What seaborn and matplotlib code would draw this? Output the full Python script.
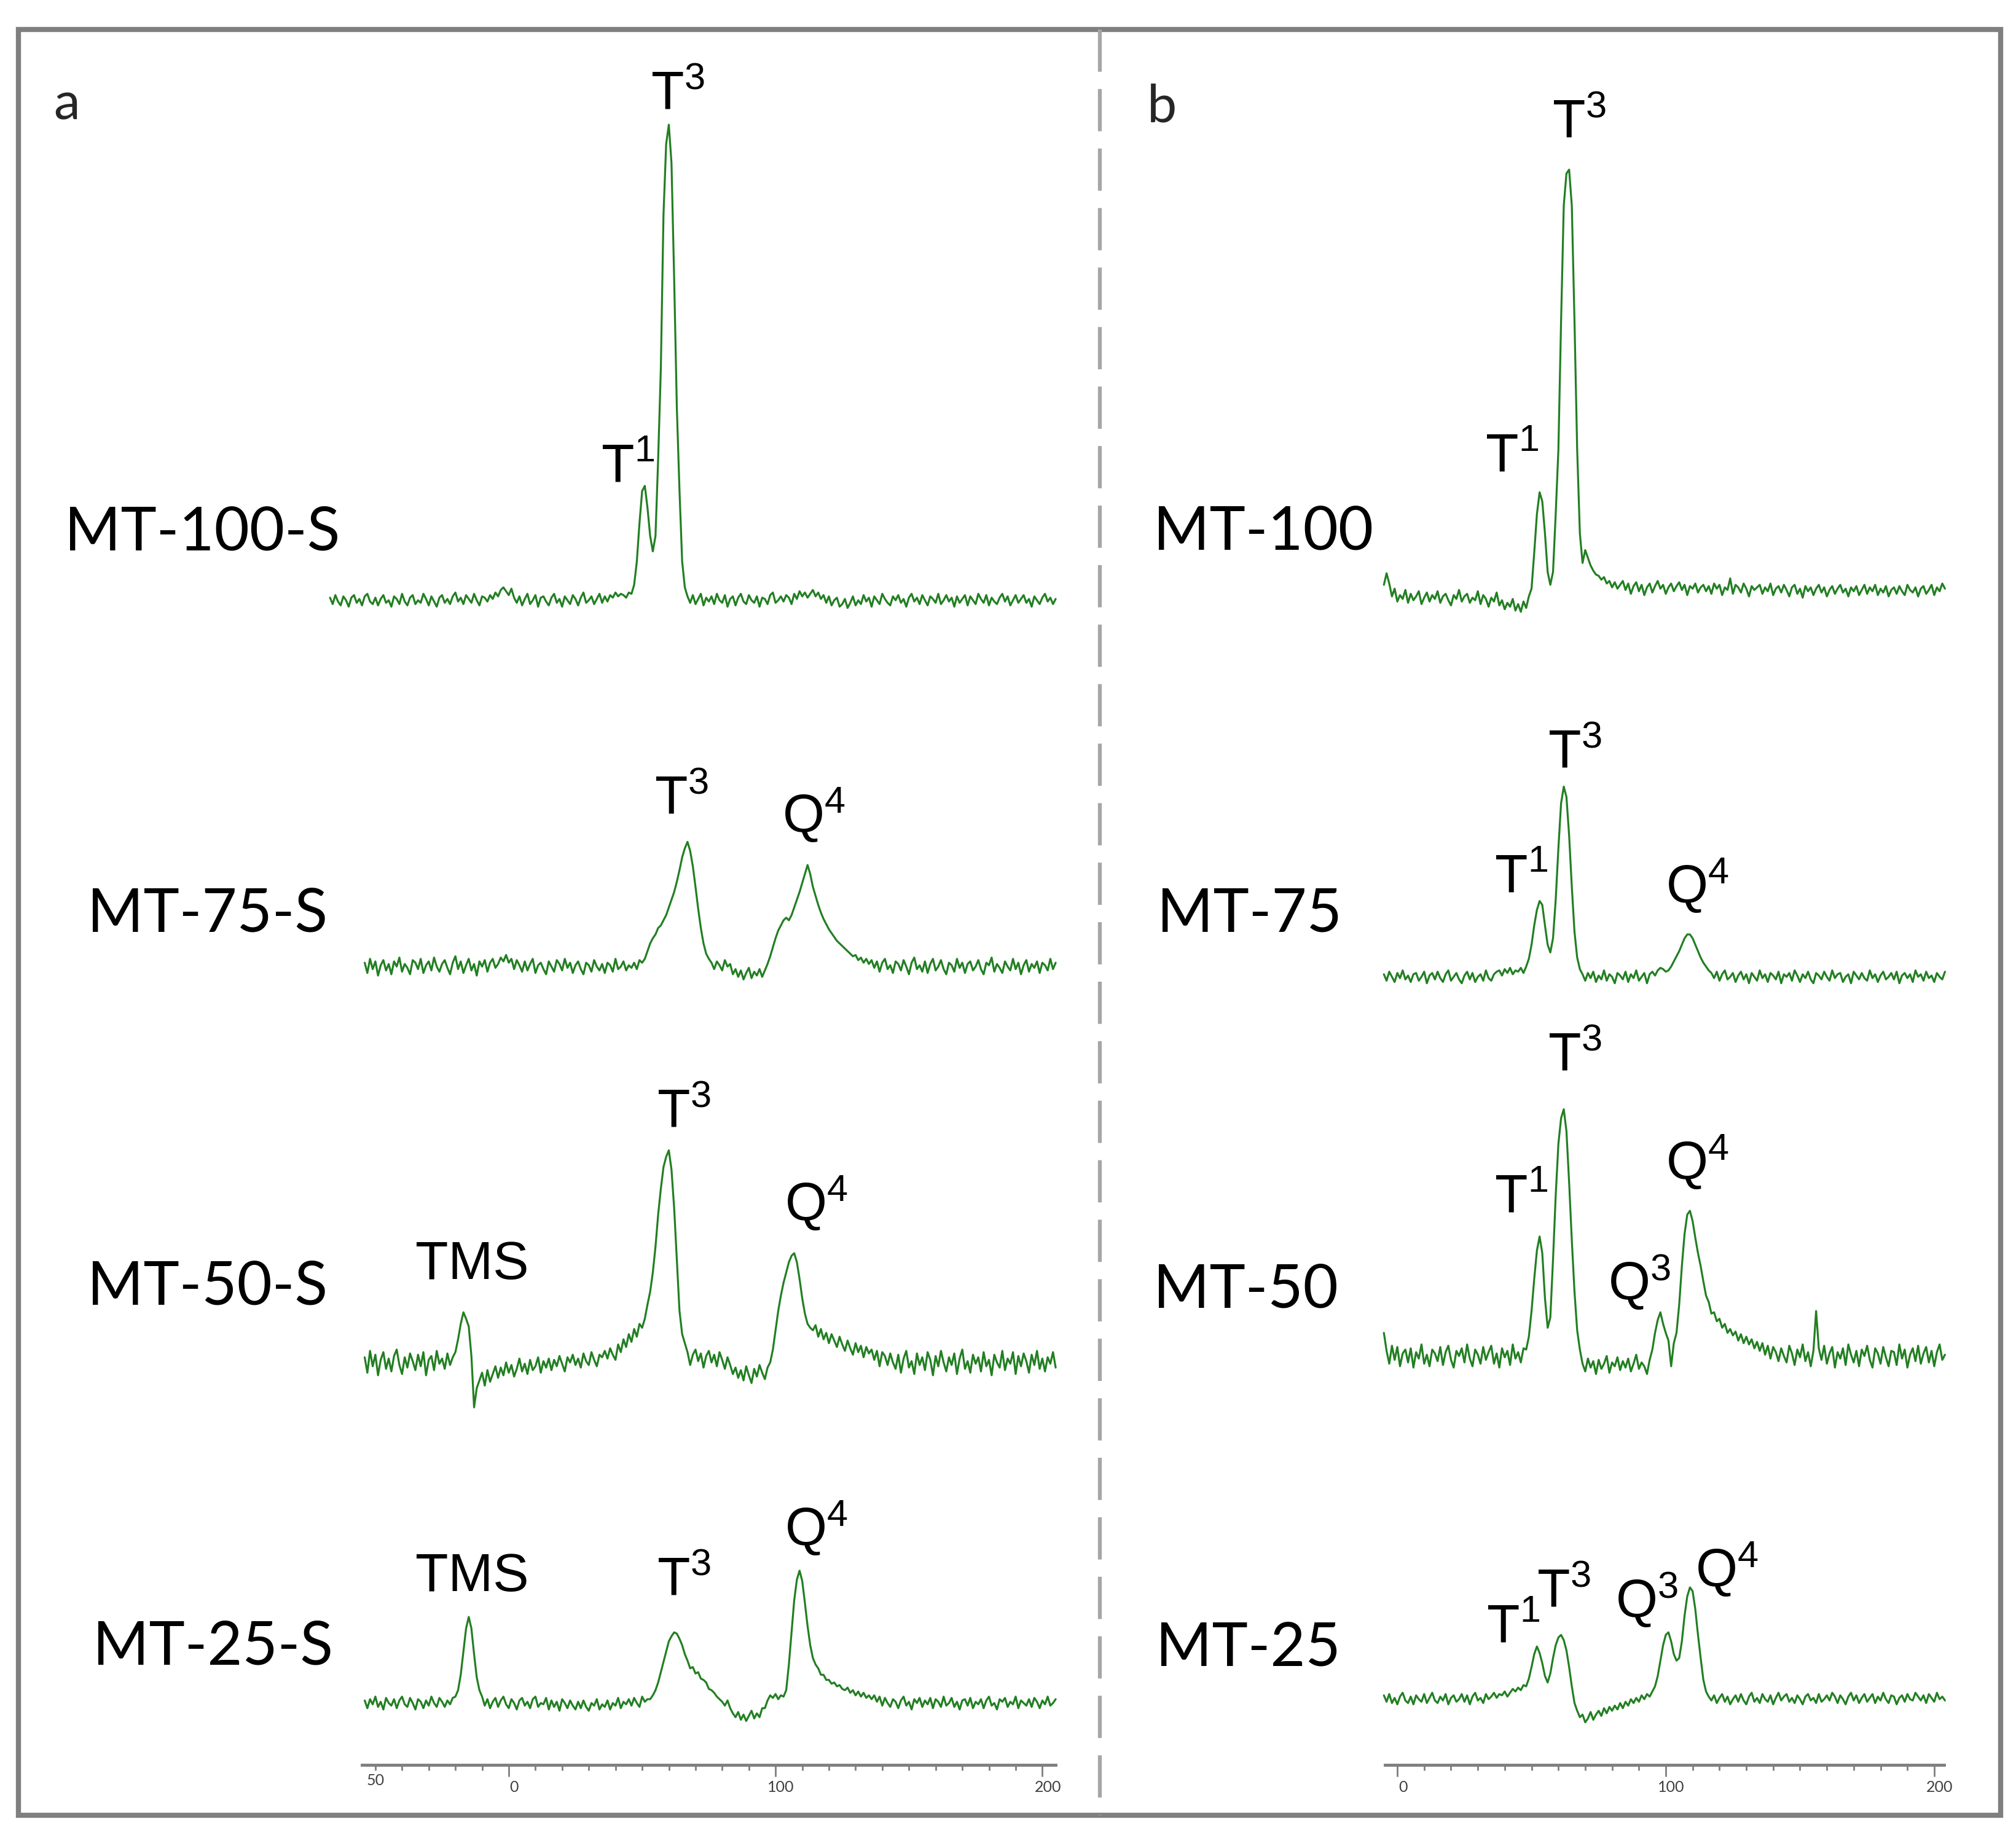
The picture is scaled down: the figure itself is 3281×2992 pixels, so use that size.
import numpy as np
import matplotlib
matplotlib.use("Agg")
import matplotlib.pyplot as plt
from matplotlib.patches import Rectangle
from matplotlib.lines import Line2D
from matplotlib.ticker import FixedLocator, FuncFormatter
from matplotlib.transforms import ScaledTranslation
import seaborn as sns

# 29Si NMR traces: intensity (arb. units) on a 1 ppm grid
# panel a starts at -67 ppm (MT-100-S) / -54 ppm (others), panel b at -5 ppm
a_start = [-67, -54, -54, -54]
b_start = [-5, -5, -5, -5]

a_mt100s = [
    2, -3, 4, -1, -4, 3, 0, -5, 2, 4,            # -67
    -2, 1, -4, 3, 5, -1, -3, 2, -4, 1,           # -57
    4, -2, 0, -5, 3, 1, -3, 5, -1, -4,           # -47
    2, 4, -3, 0, -2, 5, 1, -4, 3, -1,            # -37
    -5, 2, 4, -2, 1, -3, 3, 6, -1, 2,            # -27
    -3, 4, 1, -2, 5, 0, -4, 3, 2, -1,            # -17
    4, 1, 6, 3, 8, 10, 7, 4, 9, 2,               # -7
    -2, 3, -4, 1, 5, -3, 0, 4, -5, 2,            # 3
    3, -1, -4, 2, 5, -2, 1, -5, 3, 0,            # 13
    -3, 4, 1, -4, 2, 6, -2, 0, 3, -3,            # 23
    1, 5, -2, 3, -1, 4, 2, 6, 3, 5,              # 33
    4, 2, 6, 5, 12, 30, 60, 85, 89, 72,          # 43
    50, 38, 50, 110, 180, 300, 355, 370, 340, 250,  # 53
    150, 85, 30, 10, 3, -2, 4, -3, 1, 5,         # 63
    -4, 2, -1, 3, -3, 5, 0, -2, 4, -5,           # 73
    1, 3, -4, 2, 5, -1, -3, 4, 0, -2,            # 83
    3, -5, 2, 1, -3, 4, 6, -2, 0, 3,             # 93
    -1, 4, 2, -3, 5, 1, 7, 3, 6, 2,              # 103
    5, 8, 3, 6, 1, 4, -2, 3, -4, 0,              # 113
    2, -5, -3, 1, -6, -2, 3, -4, 0, -3,          # 123
    4, -1, 2, -5, 3, 0, -3, 5, 1, -2,            # 133
    -4, 3, 0, 4, -2, 1, -5, 2, 5, -1,            # 143
    2, -3, 4, 0, -4, 3, 1, -2, 5, -3,            # 153
    0, 4, -1, 2, -5, 3, -2, 1, 4, -4,            # 163
    3, 0, -3, 5, 1, -2, 4, -4, 2, -1,            # 173
    -3, 2, 5, -1, 3, -4, 0, 4, -2, 1,            # 183
    4, -2, 1, -5, 3, 0, -3, 2, 5, -1,            # 193
    2, -3, 1,                                    # 203
]

a_mt75s = [
    3, -5, 6, -2, 4, -7, 1, 5, -3, 2,            # -54
    -6, 4, 0, 7, -4, 2, -1, -6, 5, 3,            # -44
    -2, 6, -5, 1, 4, -3, 7, 0, -4, 2,            # -34
    5, -1, -6, 3, 8, -2, 4, -5, 1, 6,            # -24
    -3, 2, -7, 4, 0, 5, -4, 3, 6, -1,            # -14
    2, 7, 4, 9, 3, 6, -2, 5, 1, -4,              # -4
    4, -3, 2, 6, -5, 1, 3, -2, -6, 4,            # 6
    0, -4, 5, 2, -3, 6, -1, 3, -5, 1,            # 16
    4, -2, -6, 3, 1, -4, 5, 0, -3, 2,            # 26
    -5, 3, 1, -4, 6, -2, 0, 4, -3, 1,            # 36
    -1, 3, -2, 5, 3, 6, 12, 18, 22, 25,          # 46
    30, 32, 36, 40, 46, 52, 58, 66, 75, 85,      # 56
    92, 97, 90, 78, 62, 45, 30, 18, 10, 6,       # 66
    3, -2, 4, 1, -3, 5, 0, 2, -6, -2,            # 76
    -8, -3, -10, -5, -1, -9, -4, -7, -2, -8,     # 86
    -3, 2, 8, 15, 22, 28, 32, 36, 38, 36,        # 96
    40, 46, 52, 58, 65, 72, 79, 72, 62, 55,      # 106
    48, 42, 37, 33, 29, 26, 23, 20, 18, 16,      # 116
    14, 12, 10, 8, 9, 5, 7, 3, 6, 2,             # 126
    5, -1, 4, -4, 3, 6, -2, 1, -5, 4,            # 136
    2, -3, 5, 0, -6, 3, 7, -2, 1, -4,            # 146
    4, -5, 2, 6, -3, 0, 5, -2, -6, 3,            # 156
    1, -4, 6, -1, 3, -5, 2, 4, -3, 0,            # 166
    5, -2, -6, 3, 1, 7, -4, 2, -1, -5,           # 176
    4, 0, -3, 6, -2, 3, -6, 1, 5, -4,            # 186
    2, -1, 4, -5, 3, 1, -3, 6, -2, 3,            # 196
]

a_mt50s = [
    4, -8, 9, -3, 6, -10, 2, 8, -5, 3,           # -54
    -7, 5, 10, -2, -9, 4, -4, 7, 1, -6,          # -44
    6, -3, 8, -10, 2, 5, -6, 9, -1, 3,           # -34
    -5, 7, -2, 4, 8, 18, 30, 39, 34, 28,         # -24
    5, -35, -20, -14, -8, -18, -6, -15, -9, -3,  # -14
    -12, -4, -10, 0, -8, -2, -11, -5, 3, -7,     # -4
    -1, -9, 2, -6, -3, 4, -8, 1, -4, 3,          # 6
    -6, 2, -3, 5, -1, -7, 4, 0, 6, -2,           # 16
    3, -4, 7, 1, -2, 8, 2, -3, 6, 4,             # 26
    9, 3, 11, 6, 2, 14, 8, 18, 12, 22,           # 36
    16, 26, 20, 30, 27, 34, 45, 55, 70, 90,      # 46
    115, 135, 152, 160, 165, 150, 120, 80, 40, 22,  # 56
    15, 8, -2, 6, 10, 1, 7, -4, 5, 9,            # 66
    0, 6, -3, 8, 2, -5, 4, -2, -9, -4,           # 76
    -12, -6, -14, -3, -10, -16, -5, -11, -2, -8,  # 86
    -13, -4, 0, 10, 25, 40, 52, 62, 70, 78,      # 96
    83, 85, 78, 65, 50, 38, 30, 27, 25, 29,      # 106
    20, 26, 18, 23, 15, 22, 17, 12, 20, 14,      # 116
    9, 17, 11, 6, 15, 8, 13, 4, 12, 7,           # 126
    10, 2, 9, -3, 8, 5, -2, 7, 0, -5,            # 136
    6, -8, 3, 9, -4, 1, -9, 7, -2, 4,            # 146
    -6, 8, 2, -10, 5, -3, 9, 0, -7, 4,           # 156
    -2, 7, -9, 3, 10, -5, 1, -8, 6, -1,          # 166
    4, -7, 8, -3, 2, -10, 6, 0, -4, 9,           # 176
    -6, 3, -1, 8, -9, 5, -3, 7, 1, -8,           # 186
    6, -2, 9, -5, 3, -7, 4, -1, 8, -4,           # 196
]

a_mt25s = [
    2, -4, 3, -1, 5, -3, 1, -5, 4, 0,            # -54
    -2, 3, -4, 2, 5, -1, -3, 4, 0, -5,           # -44
    3, 1, -4, 2, -2, 5, 0, -3, 4, 1,             # -34
    -3, 2, -1, 4, 5, 10, 22, 40, 58, 67,         # -24
    58, 38, 20, 10, 5, -2, 3, -4, 1, 4,          # -14
    -3, 2, 5, -1, -4, 3, 0, -5, 2, 4,            # -4
    -2, 1, -4, 3, 5, -3, 0, -1, 4, -5,           # 6
    2, -3, 1, -6, 3, 0, -4, 2, -2, -5,           # 16
    1, -4, 2, -3, -6, 0, -2, 3, -5, -1,          # 26
    -3, 2, -5, 0, -2, 4, -4, 1, -1, 3,           # 36
    -2, 4, 0, -3, 5, 1, 3, 3, 6, 10,             # 46
    16, 24, 32, 40, 48, 52, 55, 54, 50, 45,      # 56
    38, 33, 27, 28, 23, 24, 19, 18, 16, 11,      # 66
    10, 8, 5, 3, 1, -2, 2, -4, -8, -11,          # 76
    -7, -13, -9, -14, -10, -6, -12, -8, -11, -4,  # 86
    -4, 2, 6, 4, 7, 3, 6, 5, 10, 30,             # 96
    55, 80, 96, 103, 95, 78, 60, 45, 35, 30,     # 106
    27, 22, 22, 18, 18, 15, 16, 13, 14, 11,      # 116
    10, 12, 8, 10, 6, 9, 5, 8, 4, 6,             # 126
    3, 6, 1, 5, -2, 4, 0, -3, 3, 1,              # 136
    -4, 2, 5, -2, 1, -5, 3, 0, 4, -3,            # 146
    2, -1, 4, -4, 3, 1, -3, 5, -2, 0,            # 156
    4, -3, 1, -5, 2, 3, -2, 4, -4, 1,            # 166
    -1, 3, -4, 2, 5, -2, 0, -5, 3, 1,            # 176
    4, -3, 1, -1, 5, -4, 2, 0, -2, 3,            # 186
    -3, 4, 1, -4, 2, -1, 5, -2, 0, 3,            # 196
]

b_mt100 = [
    5, 14, 6, -4, 2, -8, -3, -6, 1, -9,          # -5
    -2, -7, -4, 0, -10, -5, -1, -8, -3, -6,      # 5
    0, -9, -4, -2, -7, -11, -3, -6, 1, -8,       # 15
    -4, -2, -9, -5, -7, 0, -10, -3, -6, -12,     # 25
    -5, -8, -1, -11, -7, -14, -9, -12, -6, -15,  # 35
    -10, -16, -8, -13, -4, 2, 30, 60, 77, 70,    # 45
    45, 15, 5, 15, 60, 110, 210, 300, 325, 328,  # 55
    300, 210, 110, 45, 22, 32, 26, 20, 16, 13,   # 65
    12, 9, 11, 6, 8, 3, 7, 2, 5, 8,              # 75
    1, 6, -2, 4, 7, 0, 5, -3, 3, 6,              # 85
    -1, 4, 8, 2, 5, -2, 3, 6, 0, 4,              # 95
    7, 1, 5, -3, 4, 2, 6, -1, 3, 5,              # 105
    0, 4, -2, 6, 2, 5, -3, 3, 1, 10,             # 115
    -2, 5, 3, -1, 6, 2, -4, 4, 1, 3,             # 125
    5, -2, 3, 0, 6, -3, 2, 4, -1, 5,             # 135
    1, -4, 3, 5, -2, 2, -5, 4, 0, 3,             # 145
    -3, 2, 5, -1, 3, -4, 1, 4, -2, 2,            # 155
    5, -1, 2, -4, 3, 0, 4, -3, 1, 5,             # 165
    -2, 3, 0, 5, -3, 2, -1, 4, -4, 1,            # 175
    3, -2, 4, 0, -3, 5, 1, -1, 3, -4,            # 185
    2, 4, -2, 1, 5, -3, 3, 0, 6, 2,              # 195
]

b_mt75 = [
    2, -3, 4, 0, -4, 3, -1, 5, -2, 1,            # -5
    -4, 2, 3, -3, 0, 4, -5, 1, 3, -2,            # 5
    4, -1, -4, 2, 5, -3, 0, 3, -2, -5,           # 15
    1, 4, -2, 3, -4, 0, 2, -3, 5, -1,            # 25
    -3, 2, 4, 5, 1, 6, 3, 7, 2, 5,               # 35
    4, 7, 3, 8, 14, 25, 40, 52, 59, 56,          # 45
    40, 25, 19, 30, 60, 100, 135, 148, 140, 110,  # 55
    70, 35, 15, 6, 2, -3, 3, -1, 4, -4,          # 65
    1, -2, 5, -3, 2, 0, -5, 3, 1, -2,            # 75
    4, -4, 2, -1, 5, -3, 0, 3, -5, 2,            # 85
    4, 1, 5, 7, 6, 4, 5, 8, 12, 16,              # 95
    20, 25, 30, 33, 33, 30, 25, 20, 15, 11,      # 105
    8, 5, 3, -1, 4, -3, 2, 5, -2, 0,             # 115
    3, -4, 1, 4, -2, 2, -5, 3, 0, -3,            # 125
    5, -1, 2, -4, 3, 1, -2, 4, -5, 2,            # 135
    0, 3, -3, 5, 1, -4, 2, -1, 4, -2,            # 145
    -5, 3, 1, -2, 4, 0, -3, 5, -1, 2,            # 155
    3, -4, 0, 2, -5, 4, 1, -2, 3, -1,            # 165
    -3, 5, -1, 2, -4, 1, 4, -2, 0, 3,            # 175
    -2, 4, -5, 1, 3, -1, 2, -4, 5, 0,            # 185
    2, -3, 4, -1, 1, -4, 3, 0, -2, 4,            # 195
]

b_mt50 = [
    18, 4, -6, 8, -3, 7, -8, 2, 5, -5,           # -5
    6, -9, 3, -2, 9, -6, 1, -8, 5, 2,            # 5
    -4, 7, -7, 3, 8, -3, -9, 4, 0, 6,            # 15
    -5, 9, -2, -8, 5, 1, -6, 7, -3, 3,           # 25
    8, -6, 2, -9, 6, -1, 4, -7, 9, -2,           # 35
    3, -5, 6, 5, 15, 35, 60, 82, 93, 80,         # 45
    45, 22, 30, 75, 125, 165, 185, 192, 175, 135,  # 55
    90, 50, 20, 5, -6, -12, -2, -9, -4, -14,     # 65
    -3, -10, -6, 0, -13, -5, -8, -1, -11, -4,    # 75
    -9, -2, -12, -6, 1, -10, -5, -8, -14, -3,    # 85
    5, 18, 28, 34, 25, 18, 12, -8, 10, 18,       # 95
    40, 70, 95, 110, 113, 105, 92, 80, 70, 58,   # 105
    47, 42, 33, 34, 27, 29, 22, 25, 18, 21,      # 115
    16, 19, 12, 17, 10, 15, 9, 13, 6, 11,        # 125
    4, 10, 1, 8, -2, 7, 3, -4, 6, 0,             # 135
    -5, 8, 2, -7, 5, -1, 9, -4, 3, -8,           # 145
    4, 35, 6, -3, 8, -6, 2, 7, -9, 3,            # 155
    -2, 6, -7, 9, 1, -5, 4, -8, 5, 0,            # 165
    8, -3, -9, 6, 2, -6, 7, -1, -8, 4,           # 175
    3, -7, 9, -2, 5, -9, 1, 6, -4, 8,            # 185
    -6, 2, 7, -5, 4, -8, 3, 9, -3, 1,            # 195
]

b_mt25 = [
    3, -2, 4, -3, 1, -4, 2, 5, -1, -3,           # -5
    2, -4, 3, 0, -2, 4, -3, 1, 5, -1,            # 5
    -3, 2, -1, 4, -4, 1, 3, -2, 0, 4,            # 15
    -2, 3, -4, 2, 5, -1, 1, -3, 4, 0,            # 25
    2, 5, 1, 4, 3, 6, 2, 5, 8, 6,                # 35
    9, 7, 11, 10, 16, 25, 35, 41, 36, 28,        # 45
    18, 13, 20, 32, 42, 48, 50, 46, 38, 25,      # 55
    10, -3, -9, -14, -12, -18, -15, -10, -16, -12,  # 65
    -9, -13, -7, -11, -6, -9, -5, -8, -3, -7,    # 75
    -2, -5, 0, -3, 1, -2, 3, 0, 4, 2,            # 85
    6, 10, 18, 30, 42, 50, 52, 45, 35, 30,       # 95
    32, 45, 65, 80, 87, 84, 70, 50, 32, 15,      # 105
    6, 2, -1, 3, -3, 1, 4, -2, 2, -4,            # 115
    0, 3, -2, 4, -1, -4, 2, 5, -2, 1,            # 125
    -3, 4, 0, -2, 3, -4, 1, 5, -1, 2,            # 135
    4, -2, 1, -3, 3, 0, -4, 2, 4, -1,            # 145
    1, -3, 4, -2, 0, 3, -1, 5, 2, -3,            # 155
    3, 0, -4, 2, 5, -1, 3, -3, 1, 4,             # 165
    -2, 1, 4, -3, 2, -1, 5, 0, -3, 3,            # 175
    2, -4, 1, 3, -2, 4, 0, -1, 5, 2,             # 185
    -1, 3, -3, 4, 1, -2, 5, 0, 2, -1,            # 195
]

a_names = ["MT-100-S", "MT-75-S", "MT-50-S", "MT-25-S"]
b_names = ["MT-100", "MT-75", "MT-50", "MT-25"]

# peak assignments: (letter, superscript, ppm, height of label above baseline)
a_peaks = [
    [("T", "1", 44.5, 107), ("T", "3", 63.3, 397)],
    [("T", "3", 64.7, 134), ("Q", "4", 114.3, 119)],
    [("TMS", "", -13.8, 80), ("T", "3", 65.7, 198), ("Q", "4", 115.3, 125)],
    [("TMS", "", -13.8, 102), ("T", "3", 65.7, 99), ("Q", "4", 115.3, 137)],
]
b_peaks = [
    [("T", "1", 42.7, 108), ("T", "3", 67.6, 368)],
    [("T", "1", 46.1, 81), ("T", "3", 66.2, 178), ("Q", "4", 111.7, 72)],
    [("T", "1", 46.1, 127), ("T", "3", 66.2, 237), ("Q", "3", 90.1, 58), ("Q", "4", 111.7, 152)],
    [("T", "1", 43.2, 59), ("T", "3", 61.9, 87), ("Q", "3", 93.0, 78), ("Q", "4", 122.7, 102)],
]

# ---------------- layout (reference measured on a 1568 x 1430 grid)
W, H = 1568.0, 1430.0
AXIS_Y, TOP_Y = 1373.0, 23.0
GREEN = "#227f22"
GRAY = "#7f7f7f"

sns.set_theme(style="white")
plt.rcParams["font.family"] = ["Lato", "DejaVu Sans"]
plt.rcParams["mathtext.fontset"] = "custom"
plt.rcParams["mathtext.rm"] = "Liberation Sans"

fig = plt.figure(figsize=(32.81, 29.92), dpi=100)


def make_panel(x_left, x_right, x0, scale, spine, minors, minor_lab):
    ax = fig.add_axes([x_left / W, 1 - AXIS_Y / H, (x_right - x_left) / W, (AXIS_Y - TOP_Y) / H])
    ax.set_xlim((x_left - x0) / scale, (x_right - x0) / scale)
    ax.set_ylim(0, AXIS_Y - TOP_Y)
    ax.patch.set_alpha(0)
    for s in ["top", "left", "right"]:
        ax.spines[s].set_visible(False)
    ax.spines["bottom"].set_bounds(*spine)
    ax.spines["bottom"].set_color(GRAY)
    ax.spines["bottom"].set_linewidth(3.5)
    ax.set_yticks([])
    ax.xaxis.set_major_locator(FixedLocator([0, 100, 200]))
    ax.xaxis.set_minor_locator(FixedLocator(minors))
    ax.xaxis.set_minor_formatter(FuncFormatter(lambda v, p: minor_lab.get(int(round(v)), "")))
    ax.tick_params(axis="x", which="both", bottom=True, direction="out", color=GRAY,
                   width=2, labelsize=18, labelcolor="#404040", pad=4)
    ax.tick_params(axis="x", which="major", length=14)
    ax.tick_params(axis="x", which="minor", length=6.5)
    # tick numbers sit a little right of their ticks in the reference
    shift = ScaledTranslation(0.09, 0, fig.dpi_scale_trans)
    for lab in ax.get_xticklabels(which="major"):
        lab.set_transform(lab.get_transform() + shift)
    return ax


ax_a = make_panel(14.5, 855.4, 395.7, 2.075, (-55, 205), np.arange(-50, 201, 10), {-50: "50"})
ax_b = make_panel(855.4, 1556.0, 1086.8, 2.088, (-4.7, 203.6), np.arange(0, 201, 10), {})

a_offset = [906, 621, 313, 48]
b_offset = [913, 613, 318, 51]
a_name_pos = [(-166.6, 945), (-158.1, 648), (-158.1, 358), (-156.0, 78)]
b_name_pos = [(-90.9, 945), (-89.5, 648), (-90.9, 355), (-90.0, 77)]

panels = [
    (ax_a, [a_mt100s, a_mt75s, a_mt50s, a_mt25s], a_start, a_offset, a_names, a_name_pos, a_peaks),
    (ax_b, [b_mt100, b_mt75, b_mt50, b_mt25], b_start, b_offset, b_names, b_name_pos, b_peaks),
]

for ax, traces, starts, offsets, names, name_pos, peaks in panels:
    for y, st, off, name, npos, pk in zip(traces, starts, offsets, names, name_pos, peaks):
        y = np.asarray(y, dtype=float)
        ppm = np.arange(st, st + len(y))
        sns.lineplot(x=ppm, y=y + off, ax=ax, color=GREEN, linewidth=2.3,
                     estimator=None, sort=False)
        ax.text(npos[0], npos[1], name, fontsize=71, ha="left", va="baseline", color="black")
        for letter, sup, px, h in pk:
            label = letter if not sup else r"$\mathregular{%s^{%s}}$" % (letter, sup)
            ax.text(px, off + h - 15, label, fontsize=63, family="Liberation Sans",
                    ha="center", va="baseline", color="black")
    ax.set_xlabel("")
    ax.set_ylabel("")

ax_a.text(-170.5, 1280, "a", fontsize=62, ha="left", va="baseline")
ax_b.text(-93.3, 1278, "b", fontsize=62, ha="left", va="baseline")

# outer frame and dashed divider
fig.add_artist(Rectangle((14.5 / W, 1 - 1412.5 / H), (1556 - 14.5) / W, (1412.5 - 23) / H,
                         transform=fig.transFigure, fill=False, ec=GRAY, lw=6))
fig.add_artist(Line2D([855.4 / W, 855.4 / W], [1 - 23 / H, 1 - 1412.5 / H],
                      transform=fig.transFigure, color="#a6a6a6", lw=4.5,
                      linestyle=(0, (11, 4.5))))

fig.savefig("out.png", dpi=100)
